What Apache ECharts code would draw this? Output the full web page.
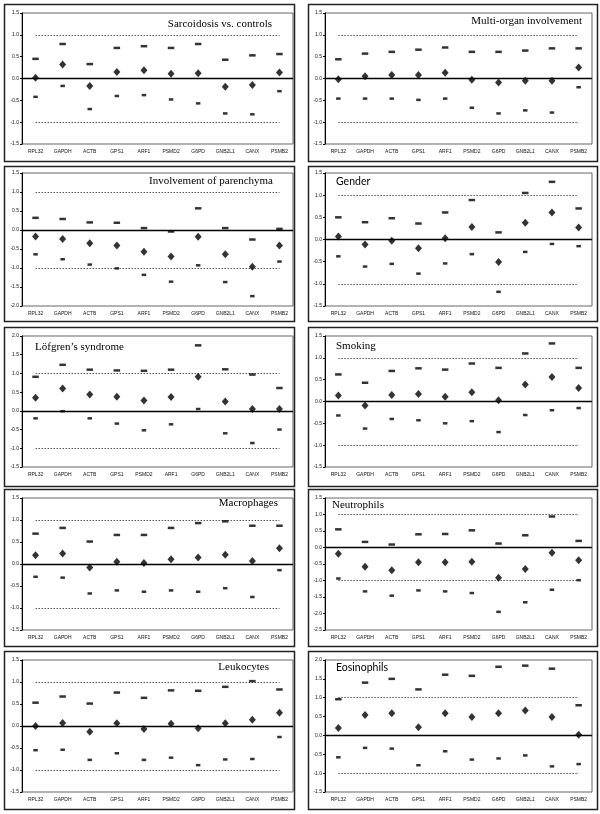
<!DOCTYPE html>
<html><head><meta charset="utf-8">
<script src="https://cdn.jsdelivr.net/npm/echarts@6/dist/echarts.min.js"></script>
<style>html,body{margin:0;padding:0;background:#fff}#c{width:600px;height:814px}</style>
</head><body><div id="c"></div>
<script>
// Categories
const genes = ['RPL32','GAPDH','ACTB','GPS1','ARF1','PSMD2','G6PD','GNB2L1','CANX','PSMB2'];
const genesLofgren = ['RPL32','GAPDH','ACTB','GPS1','PSMD2','ARF1','G6PD','GNB2L1','CANX','PSMB2'];

// Panel titles
const titles = ['Sarcoidosis vs. controls','Multi-organ involvement','Involvement of parenchyma','Gender',
  'Löfgren’s syndrome','Smoking','Macrophages','Neutrophils','Leukocytes','Eosinophils'];

// Values: upper limit, mean, lower limit
const sarcUpper = [0.45,0.79,0.33,0.70,0.74,0.70,0.79,0.43,0.53,0.56];
const sarcMean  = [0.02,0.32,-0.17,0.15,0.19,0.11,0.12,-0.19,-0.15,0.14];
const sarcLower = [-0.42,-0.17,-0.70,-0.40,-0.38,-0.48,-0.57,-0.80,-0.82,-0.29];

const multiUpper = [0.44,0.57,0.61,0.66,0.71,0.61,0.61,0.64,0.69,0.69];
const multiMean  = [-0.02,0.05,0.08,0.08,0.13,-0.03,-0.09,-0.05,-0.05,0.25];
const multiLower = [-0.46,-0.46,-0.46,-0.49,-0.46,-0.67,-0.80,-0.73,-0.78,-0.20];

const parUpper = [0.32,0.29,0.20,0.19,0.05,-0.04,0.57,0.05,-0.25,0.03];
const parMean  = [-0.17,-0.24,-0.35,-0.41,-0.57,-0.70,-0.18,-0.64,-0.97,-0.41];
const parLower = [-0.64,-0.77,-0.91,-1.01,-1.18,-1.36,-0.93,-1.37,-1.74,-0.83];

const genderUpper = [0.50,0.39,0.48,0.36,0.61,0.89,0.16,1.05,1.30,0.70];
const genderMean  = [0.07,-0.11,-0.03,-0.20,0.03,0.28,-0.51,0.38,0.61,0.27];
const genderLower = [-0.38,-0.61,-0.55,-0.77,-0.54,-0.33,-1.18,-0.28,-0.10,-0.15];

const lofUpper = [0.91,1.23,1.10,1.08,1.07,1.10,1.75,1.11,0.97,0.61];
const lofMean  = [0.35,0.60,0.44,0.38,0.28,0.37,0.91,0.25,0.05,0.05];
const lofLower = [-0.20,-0.01,-0.20,-0.34,-0.52,-0.36,0.05,-0.60,-0.86,-0.50];

const smokUpper = [0.62,0.43,0.70,0.76,0.73,0.87,0.77,1.10,1.33,0.77];
const smokMean  = [0.14,-0.09,0.15,0.17,0.11,0.21,0.03,0.39,0.56,0.31];
const smokLower = [-0.32,-0.62,-0.40,-0.43,-0.50,-0.45,-0.70,-0.31,-0.20,-0.15];

const macUpper = [0.69,0.82,0.51,0.66,0.66,0.82,0.93,0.97,0.87,0.87];
const macMean  = [0.20,0.24,-0.08,0.05,0.02,0.11,0.15,0.21,0.07,0.36];
const macLower = [-0.29,-0.31,-0.67,-0.60,-0.63,-0.60,-0.63,-0.55,-0.75,-0.14];

const neuUpper = [0.55,0.17,0.09,0.40,0.41,0.52,0.12,0.37,0.94,0.20];
const neuMean  = [-0.19,-0.58,-0.69,-0.45,-0.45,-0.43,-0.92,-0.65,-0.16,-0.39];
const neuLower = [-0.94,-1.33,-1.46,-1.30,-1.33,-1.38,-1.95,-1.66,-1.28,-0.99];

const leuUpper = [0.53,0.67,0.51,0.76,0.64,0.81,0.80,0.89,1.02,0.83];
const leuMean  = [0.00,0.07,-0.13,0.06,-0.07,0.05,-0.05,0.06,0.14,0.30];
const leuLower = [-0.55,-0.54,-0.77,-0.62,-0.77,-0.72,-0.89,-0.76,-0.75,-0.25];

const eosUpper = [0.96,1.40,1.50,1.22,1.61,1.58,1.82,1.85,1.77,0.80];
const eosMean  = [0.20,0.54,0.59,0.22,0.59,0.49,0.59,0.66,0.49,0.02];
const eosLower = [-0.58,-0.33,-0.35,-0.79,-0.42,-0.64,-0.61,-0.53,-0.82,-0.76];

// Y axis tick ranges
const yMins = [-1.5,-1.5,-2.0,-1.5,-1.5,-1.5,-1.5,-2.5,-1.5,-1.5];
const yMaxs = [1.5,1.5,1.5,1.5,2.0,1.5,1.5,1.5,1.5,2.0];

const panels = [
  {cats: genes, up: sarcUpper, mean: sarcMean, low: sarcLower},
  {cats: genes, up: multiUpper, mean: multiMean, low: multiLower},
  {cats: genes, up: parUpper, mean: parMean, low: parLower},
  {cats: genes, up: genderUpper, mean: genderMean, low: genderLower},
  {cats: genesLofgren, up: lofUpper, mean: lofMean, low: lofLower},
  {cats: genes, up: smokUpper, mean: smokMean, low: smokLower},
  {cats: genes, up: macUpper, mean: macMean, low: macLower},
  {cats: genes, up: neuUpper, mean: neuMean, low: neuLower},
  {cats: genes, up: leuUpper, mean: leuMean, low: leuLower},
  {cats: genes, up: eosUpper, mean: eosMean, low: eosLower}
];

// Layout
const rowTops = [13, 173, 336, 498, 660];
const rowHeights = [131, 133, 131, 132, 132];
const boxRows = [[4,157],[166,155],[327,159],[489,157],[651,158]];
const titlePos = [
  {right: 328, top: 19}, {right: 18, top: 16},
  {right: 327, top: 176}, {left: 336, top: 176},
  {left: 35, top: 342}, {left: 336, top: 341},
  {right: 322, top: 498}, {left: 332, top: 500},
  {right: 331, top: 662}, {left: 336, top: 662}
];
const sansTitle = [false,false,false,true,false,false,false,false,false,true];

const grids = [], xAxes = [], yAxes = [], series = [], titleOpts = [], graphics = [];
panels.forEach((p, i) => {
  const row = Math.floor(i / 2), col = i % 2;
  grids.push({
    left: col === 0 ? 22 : 325,
    width: col === 0 ? 271 : 267,
    top: rowTops[row], height: rowHeights[row],
    show: true, borderColor: '#666', borderWidth: 1, backgroundColor: 'transparent'
  });
  xAxes.push({
    type: 'category', gridIndex: i, data: p.cats, boundaryGap: true,
    axisLine: {show: true, lineStyle: {color: '#666', width: 1}},
    axisTick: {show: false},
    axisLabel: {fontSize: 5, color: '#111', margin: 5, fontFamily: 'Liberation Sans', interval: 0},
    splitLine: {show: false}
  });
  yAxes.push({
    type: 'value', gridIndex: i, min: yMins[i], max: yMaxs[i], interval: 0.5,
    axisLine: {show: true, onZero: false, lineStyle: {color: '#000', width: 1}},
    axisTick: {show: true, length: 2, lineStyle: {color: '#000'}},
    axisLabel: {fontSize: 5, color: '#111', margin: 3, fontFamily: 'Liberation Sans',
      formatter: v => v.toFixed(1)},
    splitLine: {show: false}
  });
  const first = p.cats[0], last = p.cats[p.cats.length - 1];
  const dotted = {type: [1.5, 1.5], color: '#555', width: 1};
  series.push({
    type: 'scatter', xAxisIndex: i, yAxisIndex: i, data: p.mean,
    symbol: 'diamond', symbolSize: [7, 8], itemStyle: {color: '#000'}, z: 5,
    markLine: {
      silent: true, symbol: ['none','none'], label: {show: false}, animation: false,
      data: [
        {yAxis: 0, lineStyle: {type: 'solid', color: '#000', width: 1.4}},
        [{coord: [first, 1], lineStyle: dotted}, {coord: [last, 1]}],
        [{coord: [first, -1], lineStyle: dotted}, {coord: [last, -1]}]
      ]
    }
  });
  series.push({
    type: 'scatter', xAxisIndex: i, yAxisIndex: i, data: p.up,
    symbol: 'rect', symbolSize: [6.5, 2.5], itemStyle: {color: '#000'}, z: 5
  });
  series.push({
    type: 'scatter', xAxisIndex: i, yAxisIndex: i, data: p.low,
    symbol: 'rect', symbolSize: [4.5, 2.5], itemStyle: {color: '#000'}, z: 5
  });
  titleOpts.push(Object.assign({
    text: titles[i], padding: 0,
    textStyle: {
      fontFamily: sansTitle[i] ? 'Lato' : 'Liberation Serif',
      fontSize: sansTitle[i] ? 10.5 : 11, fontWeight: 'normal', color: '#000'
    }
  }, titlePos[i]));
  const br = boxRows[row];
  graphics.push({
    type: 'rect', silent: true, z: 100,
    shape: {x: col === 0 ? 4.5 : 308.5, y: br[0] + 0.5, width: col === 0 ? 290 : 289, height: br[1]},
    style: {fill: 'none', stroke: '#222', lineWidth: 1.5}
  });
});

const chart = echarts.init(document.getElementById('c'), null, {renderer: 'canvas'});
chart.setOption({
  animation: false,
  backgroundColor: '#fff',
  title: titleOpts,
  grid: grids, xAxis: xAxes, yAxis: yAxes, series: series,
  graphic: graphics
});
</script>
</body></html>
